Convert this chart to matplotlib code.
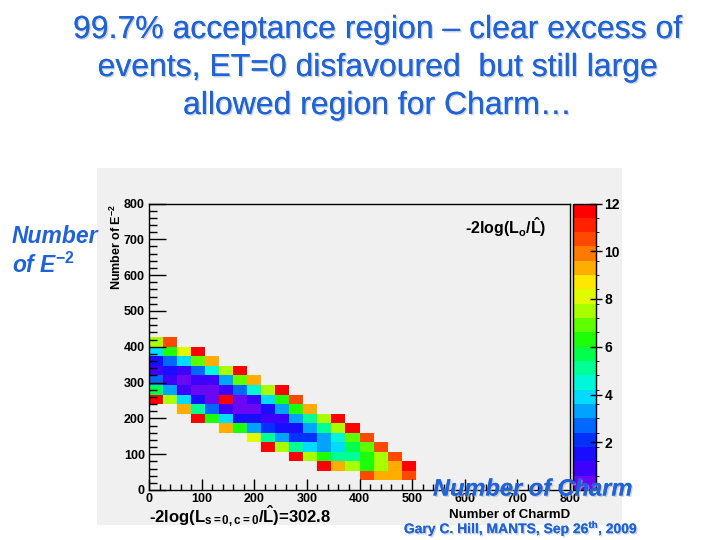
import matplotlib
matplotlib.use("Agg")
import matplotlib.pyplot as plt
import matplotlib.patheffects as pe
import numpy as np
from matplotlib.colors import LinearSegmentedColormap, BoundaryNorm
from matplotlib.patches import Rectangle
from matplotlib.ticker import MultipleLocator

W, H = 720, 540
BLUE = "#1f63d6"
CANVAS = "#f0f0f0"

plt.rcParams["font.family"] = ["Liberation Sans", "DejaVu Sans"]
plt.rcParams["mathtext.fontset"] = "custom"
plt.rcParams["mathtext.rm"] = "Liberation Sans:bold"
plt.rcParams["mathtext.bf"] = "Liberation Sans:bold"
plt.rcParams["mathtext.it"] = "Liberation Sans:bold:italic"
plt.rcParams["mathtext.default"] = "bf"

# 2D histogram: 30 x 30 bins over 0..800 on both axes
n_bins = 30
x_max = 800
y_max = 800

# -2log(L0/Lhat) per row: E^-2 bin index, first filled CharmD bin, values
row_bin = [15, 14, 13, 12, 11, 10, 9, 8, 7, 6, 5, 4, 3, 2, 1]
row_first = [0, 0, 0, 0, 0, 0, 0, 2, 3, 5, 7, 8, 10, 12, 15]
row_values = [
    [7.5, 10.2],
    [4.0, 6.2, 7.8, 11.5],
    [1.5, 2.6, 3.9, 6.6, 9.0],
    [1.0, 1.4, 1.0, 2.8, 4.6, 7.6, 11.5],
    [2.8, 1.0, 0.5, 0.7, 1.0, 3.0, 6.6, 9.0],
    [5.6, 3.0, 1.0, 0.4, 0.5, 1.0, 2.6, 4.6, 7.6, 11.5],
    [11.6, 7.6, 4.0, 1.2, 0.5, 11.6, 0.5, 1.0, 4.0, 6.2, 10.2],
    [9.0, 5.0, 2.8, 1.0, 0.4, 0.5, 1.2, 3.0, 6.2, 9.0],
    [11.6, 6.4, 4.0, 1.6, 1.2, 0.7, 1.0, 3.0, 5.0, 7.6, 11.6],
    [9.0, 6.0, 3.0, 1.8, 1.2, 1.2, 3.0, 4.8, 7.6, 11.4],
    [8.0, 5.2, 3.0, 1.8, 1.8, 3.2, 4.2, 6.6, 10.6],
    [11.6, 7.6, 5.0, 4.0, 3.4, 4.0, 5.4, 6.8, 10.6],
    [11.6, 7.6, 6.2, 5.0, 5.0, 6.2, 7.6, 10.6],
    [11.6, 9.0, 7.4, 6.4, 7.4, 9.0, 11.6],
    [10.6, 9.0, 9.0, 10.6],
]
z_levels = np.linspace(0, 12, 21)
cbar_ticks = [2, 4, 6, 8, 10, 12]

grid = np.full((n_bins, n_bins), np.nan)
for j, i0, vals in zip(row_bin, row_first, row_values):
    grid[j, i0:i0 + len(vals)] = vals
edges_x = np.linspace(0, x_max, n_bins + 1)
edges_y = np.linspace(0, y_max, n_bins + 1)

palette = LinearSegmentedColormap.from_list("root", [
    "#6a08f4", "#3000ff", "#0018ff", "#0060ff", "#00a8ff", "#00f0ff",
    "#00ffb0", "#00ff50", "#20ff00", "#80ff00", "#d8ff00", "#ffe800",
    "#ffa000", "#ff6000", "#ff2800", "#ff0000"])
norm = BoundaryNorm(z_levels, palette.N)


def box(l, t, r, b):
    return [l / W, 1 - b / H, (r - l) / W, (b - t) / H]


def px(x, y):
    return x / W, 1 - y / H


fig = plt.figure(figsize=(7.2, 5.4), dpi=100)
fig.patch.set_facecolor("white")
fig.patches.append(Rectangle(px(97, 525), (622 - 97) / W, (525 - 168) / H,
                             transform=fig.transFigure, facecolor=CANVAS,
                             edgecolor="none", zorder=-10))

ax = fig.add_axes(box(149, 203.5, 570, 490))
ax.set_facecolor(CANVAS)
mesh = ax.pcolormesh(edges_x, edges_y, np.ma.masked_invalid(grid), cmap=palette, norm=norm)
ax.set_xlim(0, x_max)
ax.set_ylim(0, y_max)
for s in ax.spines.values():
    s.set_linewidth(1)
    s.set_color("black")
ax.xaxis.set_major_locator(MultipleLocator(100))
ax.xaxis.set_minor_locator(MultipleLocator(20))
ax.yaxis.set_major_locator(MultipleLocator(100))
ax.yaxis.set_minor_locator(MultipleLocator(20))
ax.tick_params(axis="x", which="major", direction="in", length=8, width=1, pad=2)
ax.tick_params(axis="x", which="minor", direction="in", length=4, width=1)
ax.tick_params(axis="y", which="major", direction="in", length=12, width=1, pad=3)
ax.tick_params(axis="y", which="minor", direction="in", length=6, width=1)
for lab in ax.get_xticklabels() + ax.get_yticklabels():
    lab.set_fontsize(9)
    lab.set_fontweight("bold")

cax = fig.add_axes(box(573, 203.5, 596, 490))
cb = fig.colorbar(mesh, cax=cax, ticks=cbar_ticks)
cb.outline.set_linewidth(1)
cb.ax.tick_params(direction="inout", length=8, width=1, pad=2)
for lab in cb.ax.get_yticklabels():
    lab.set_fontsize(10)
    lab.set_fontweight("bold")

# text inside the ROOT canvas
fig.text(*px(116, 204), r"Number of E$^{-2}$", rotation=90, ha="center", va="top",
         fontsize=9, fontweight="bold")
fig.text(*px(570, 515), "Number of CharmD", ha="right", va="center",
         fontsize=9.5, fontweight="bold")
fig.text(*px(465, 227), r"-2log(L$_{o}$/$\hat{L}$)", ha="left", va="center",
         fontsize=11.5, fontweight="bold")
fig.text(*px(149, 516), r"-2log(L$_{s{=}0,c{=}0}$/$\hat{L}$)=302.8", ha="left",
         va="center", fontsize=12, fontweight="bold")

# slide text
shadow = [pe.withSimplePatchShadow(offset=(1.0, -1.0), shadow_rgbFace="#a8b4cc", alpha=0.6),
          pe.Normal()]
title_lines = ["99.7% acceptance region \u2013 clear excess of",
               "events, ET=0 disfavoured  but still large",
               "allowed region for Charm\u2026"]
for k, line in enumerate(title_lines):
    fig.text(*px(378, 30 + 38 * k), line, ha="center", va="center", fontsize=23,
             color=BLUE, path_effects=shadow)

fig.text(*px(12, 236), "Number", ha="left", va="center", fontsize=16.5,
         fontweight="bold", style="italic", color=BLUE)
fig.text(*px(12, 265), r"of E$^{\mathbf{-2}}$", ha="left", va="center", fontsize=16.5,
         fontweight="bold", style="italic", color=BLUE)
fig.text(*px(433, 489), "Number of Charm", ha="left", va="center", fontsize=17,
         fontweight="bold", style="italic", color=BLUE, path_effects=shadow)
fig.text(*px(638, 528), r"Gary C. Hill, MANTS, Sep 26$^{th}$, 2009", ha="right",
         va="center", fontsize=10, fontweight="bold", color=BLUE, path_effects=shadow)

fig.savefig("out.png", dpi=100, facecolor="white")
